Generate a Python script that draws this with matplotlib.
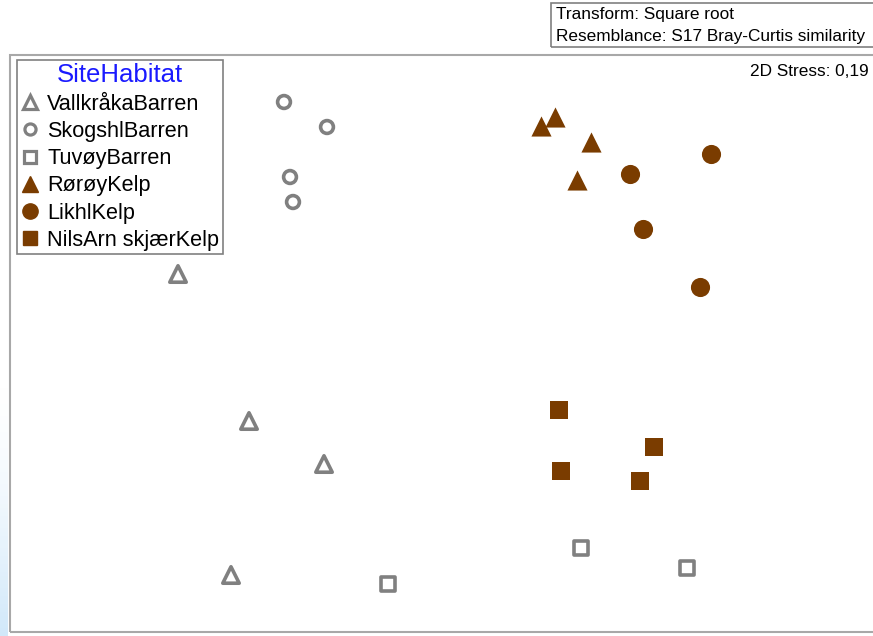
import numpy as np
import matplotlib.pyplot as plt
from matplotlib.lines import Line2D
from matplotlib.patches import Rectangle

# nMDS ordination coordinates per site/habitat group
vallkraka_x = [-1.048, -0.764, -0.464, -0.836]
vallkraka_y = [0.176, -0.412, -0.584, -1.028]
skogshl_x = [-0.624, -0.452, -0.600, -0.588]
skogshl_y = [0.864, 0.764, 0.564, 0.464]
tuvoy_x = [-0.208, 0.564, 0.988]
tuvoy_y = [-1.064, -0.920, -1.000]
roroy_x = [0.404, 0.460, 0.604, 0.548]
roroy_y = [0.768, 0.804, 0.704, 0.552]
likhl_x = [1.084, 0.760, 0.812, 1.040]
likhl_y = [0.656, 0.576, 0.356, 0.124]
nilsarn_x = [0.476, 0.856, 0.484, 0.800]
nilsarn_y = [-0.368, -0.516, -0.612, -0.652]

labels = ['VallkråkaBarren', 'SkogshlBarren', 'TuvøyBarren',
          'RørøyKelp', 'LikhlKelp', 'NilsArn skjærKelp']

GREY = '#808080'
BROWN = '#7a3c00'
FONT = 'Liberation Sans'

W, H = 873, 636
SCALE = 250.0
X0, Y0 = 440, 318

fig = plt.figure(figsize=(W / 100, H / 100), dpi=100)
ax = fig.add_axes([0, 0, 1, 1])
ax.set_xlim((0 - X0) / SCALE, (W - X0) / SCALE)
ax.set_ylim((Y0 - H) / SCALE, Y0 / SCALE)
ax.axis('off')

def px(x, y):
    return ((x - X0) / SCALE, (Y0 - y) / SCALE)

# faint blue window edge along the lower left, fading out upwards
fade = np.linspace(0, 1, 64) ** 1.5
tint = np.zeros((64, 1, 4))
tint[..., :3] = [0.82, 0.91, 0.98]
tint[:, 0, 3] = fade
l, b = px(0, 636)
r, t = px(8, 380)
ax.imshow(tint, extent=(l, r, b, t), origin='upper', aspect='auto', zorder=0)

# plot frame
fx, fy = px(10, 632)
ax.add_patch(Rectangle((fx, fy), (880 - 10) / SCALE, (632 - 55) / SCALE,
                       fill=False, edgecolor='#a8a8a8', lw=1.5, zorder=1))

open_kw = dict(facecolor='none', edgecolors=GREY, linewidths=2.6, zorder=3)
ax.scatter(vallkraka_x, vallkraka_y, marker='^', s=140, **open_kw)
ax.scatter(skogshl_x, skogshl_y, marker='o', s=85, **open_kw)
ax.scatter(tuvoy_x, tuvoy_y, marker='s', s=95, **open_kw)
ax.scatter(roroy_x, roroy_y, marker='^', s=210, color=BROWN, linewidths=0, zorder=3)
ax.scatter(likhl_x, likhl_y, marker='o', s=190, color=BROWN, linewidths=0, zorder=3)
ax.scatter(nilsarn_x, nilsarn_y, marker='s', s=170, color=BROWN, linewidths=0, zorder=3)

handles = [
    Line2D([], [], ls='', marker='^', ms=10, mfc='none', mec=GREY, mew=2.3),
    Line2D([], [], ls='', marker='o', ms=8, mfc='none', mec=GREY, mew=2.3),
    Line2D([], [], ls='', marker='s', ms=8.5, mfc='none', mec=GREY, mew=2.3),
    Line2D([], [], ls='', marker='^', ms=12, color=BROWN),
    Line2D([], [], ls='', marker='o', ms=11, color=BROWN),
    Line2D([], [], ls='', marker='s', ms=10.5, color=BROWN),
]
leg = ax.legend(handles, labels, title='SiteHabitat', loc='upper left',
                bbox_to_anchor=(17 / W, 1 - 60 / H), bbox_transform=fig.transFigure,
                prop={'family': FONT, 'size': 15.6},
                fancybox=False, framealpha=1,
                edgecolor='#808080', borderpad=0.15, labelspacing=0.29,
                handletextpad=0.35, handlelength=0.9, borderaxespad=0)
leg.get_title().set_color('#1a1aff')
leg.get_title().set_fontsize(18.5)
leg.get_title().set_family(FONT)
leg.get_frame().set_linewidth(1.2)

# resemblance info box
fig.text(556 / W, 1 - 15 / H, 'Transform: Square root', fontsize=12.4,
         va='center', ha='left', family=FONT)
fig.text(556 / W, 1 - 36 / H, 'Resemblance: S17 Bray-Curtis similarity', fontsize=12.4,
         va='center', ha='left', family=FONT)
fig.add_artist(Rectangle((551 / W, 1 - 47 / H), (W + 5 - 551) / W, 44 / H,
                         transform=fig.transFigure, fill=False,
                         edgecolor='#808080', lw=1.2))
fig.text(869 / W, 1 - 71 / H, '2D Stress: 0,19', fontsize=12.4,
         va='center', ha='right', family=FONT)

fig.savefig('out.png', dpi=100)
